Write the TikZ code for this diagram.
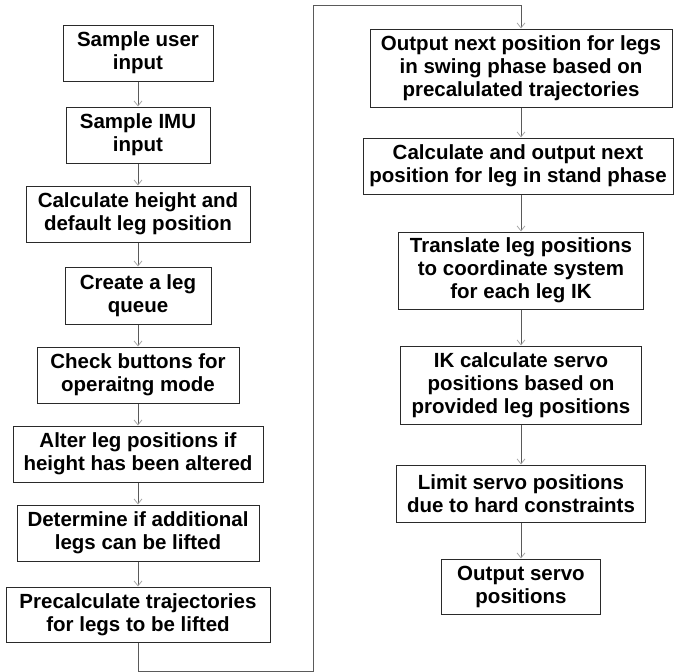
\documentclass[tikz,border=0pt]{standalone}
\usepackage{fontspec}
\setmainfont{Liberation Sans}
\usetikzlibrary{arrows.meta}
\definecolor{boxline}{HTML}{2A2A2A}
\definecolor{linkline}{HTML}{5A5A5A}
\definecolor{tipgray}{HTML}{A8A8A8}
\tikzset{
  stepbox/.style={draw=boxline, line width=1pt, fill=white, rectangle,
    inner sep=0pt, align=center,
    font=\fontsize{20.5}{23}\selectfont\bfseries},
  link/.style={draw=linkline, line width=1pt,
    -{Straight Barb[length=5pt,width=8pt,line width=0.8pt,color=tipgray]}},
}
\begin{document}
\begin{tikzpicture}[x=1pt,y=-1pt]
\useasboundingbox (0,0) rectangle (675,672);

% left column
\node[stepbox, minimum width=150, minimum height=56] (s1) at (138,53) {Sample user\\input};
\node[stepbox, minimum width=144, minimum height=56] (s2) at (138,135) {Sample IMU\\input};
\node[stepbox, minimum width=224, minimum height=56] (s3) at (138,214) {Calculate height and\\default leg position};
\node[stepbox, minimum width=146, minimum height=57] (s4) at (138,295.5) {Create a leg\\queue};
\node[stepbox, minimum width=202, minimum height=56] (s5) at (138,375) {Check buttons for\\operaitng mode};
\node[stepbox, minimum width=250, minimum height=56] (s6) at (138,454) {Alter leg positions if\\height has been altered};
\node[stepbox, minimum width=242, minimum height=56] (s7) at (138,533) {Determine if additional\\legs can be lifted};
\node[stepbox, minimum width=264, minimum height=55] (s8) at (138,614.5) {Precalculate trajectories\\for legs to be lifted};

% right column
\node[stepbox, minimum width=302, minimum height=78] (s9) at (521,68) {Output next position for legs\\in swing phase based on\\precalulated trajectories};
\node[stepbox, minimum width=310, minimum height=56] (s10) at (518,166) {Calculate and output next\\position for leg in stand phase};
\node[stepbox, minimum width=245, minimum height=77] (s11) at (521,270.5) {Translate leg positions\\to coordinate system\\for each leg IK};
\node[stepbox, minimum width=241, minimum height=78] (s12) at (521,385) {IK calculate servo\\positions based on\\provided leg positions};
\node[stepbox, minimum width=249, minimum height=57] (s13) at (521,493.5) {Limit servo positions\\due to hard constraints};
\node[stepbox, minimum width=159, minimum height=55] (s14) at (521,586.5) {Output servo\\positions};

% corner points of the return path between the columns
\coordinate (b1) at (138,671);
\coordinate (b2) at (313,671);
\coordinate (t1) at (313,5);
\coordinate (t2) at (521,5);

\draw[link] (s1) -- (s2);
\draw[link] (s2) -- (s3);
\draw[link] (s3) -- (s4);
\draw[link] (s4) -- (s5);
\draw[link] (s5) -- (s6);
\draw[link] (s6) -- (s7);
\draw[link] (s7) -- (s8);
\draw[link] (s8.south) -- (b1) -- (b2) -- (t1) -- (t2) -- (s9.north);
\draw[link] (s9.south) -- (s9.south |- s10.north);
\draw[link] (s9.south |- s10.south) -- (s11.north);
\draw[link] (s11) -- (s12);
\draw[link] (s12) -- (s13);
\draw[link] (s13) -- (s14);
\end{tikzpicture}
\end{document}
